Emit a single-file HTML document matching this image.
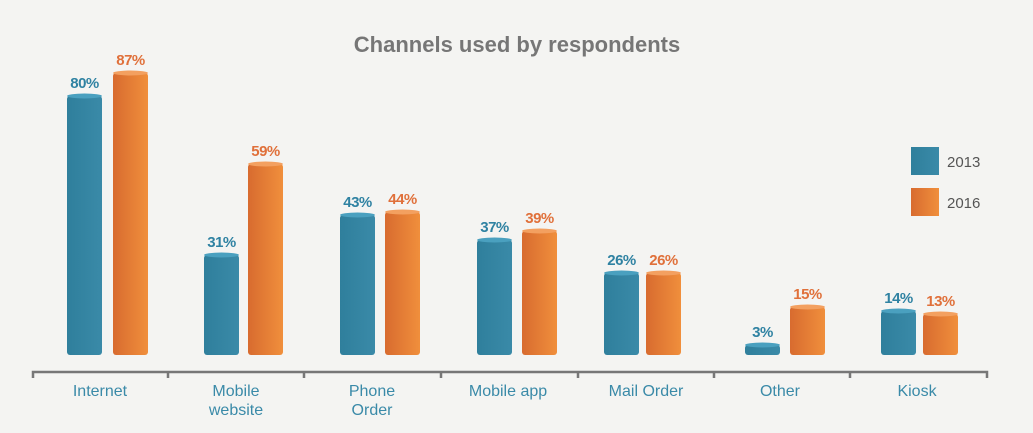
<!DOCTYPE html>
<html><head><style>
body{margin:0;background:#f4f4f2;}
svg{display:block;font-family:"Liberation Sans",sans-serif;}
</style></head><body>
<svg width="1033" height="433" viewBox="0 0 1033 433">
<defs>
<linearGradient id="b" x1="0" x2="1"><stop offset="0" stop-color="#2f7f9c"/><stop offset="1" stop-color="#3a8aa8"/></linearGradient>
<linearGradient id="o" x1="0" x2="1"><stop offset="0" stop-color="#d86b2f"/><stop offset="1" stop-color="#f08f3c"/></linearGradient>
</defs>
<rect width="1033" height="433" fill="#f4f4f2"/>
<text x="517" y="52" text-anchor="middle" font-size="22" font-weight="bold" fill="#767676">Channels used by respondents</text>
<g>
<rect x="67" y="96" width="35" height="259" rx="3" fill="url(#b)"/><ellipse cx="84.5" cy="96" rx="17.5" ry="2.5" fill="#4aa0bf"/>
<rect x="113" y="73" width="35" height="282" rx="3" fill="url(#o)"/><ellipse cx="130.5" cy="73" rx="17.5" ry="2.5" fill="#f3a060"/>
<rect x="204" y="255" width="35" height="100" rx="3" fill="url(#b)"/><ellipse cx="221.5" cy="255" rx="17.5" ry="2.5" fill="#4aa0bf"/>
<rect x="248" y="164" width="35" height="191" rx="3" fill="url(#o)"/><ellipse cx="265.5" cy="164" rx="17.5" ry="2.5" fill="#f3a060"/>
<rect x="340" y="215" width="35" height="140" rx="3" fill="url(#b)"/><ellipse cx="357.5" cy="215" rx="17.5" ry="2.5" fill="#4aa0bf"/>
<rect x="385" y="212" width="35" height="143" rx="3" fill="url(#o)"/><ellipse cx="402.5" cy="212" rx="17.5" ry="2.5" fill="#f3a060"/>
<rect x="477" y="240" width="35" height="115" rx="3" fill="url(#b)"/><ellipse cx="494.5" cy="240" rx="17.5" ry="2.5" fill="#4aa0bf"/>
<rect x="522" y="231" width="35" height="124" rx="3" fill="url(#o)"/><ellipse cx="539.5" cy="231" rx="17.5" ry="2.5" fill="#f3a060"/>
<rect x="604" y="273" width="35" height="82" rx="3" fill="url(#b)"/><ellipse cx="621.5" cy="273" rx="17.5" ry="2.5" fill="#4aa0bf"/>
<rect x="646" y="273" width="35" height="82" rx="3" fill="url(#o)"/><ellipse cx="663.5" cy="273" rx="17.5" ry="2.5" fill="#f3a060"/>
<rect x="745" y="345" width="35" height="10" rx="3" fill="url(#b)"/><ellipse cx="762.5" cy="345" rx="17.5" ry="2.5" fill="#4aa0bf"/>
<rect x="790" y="307" width="35" height="48" rx="3" fill="url(#o)"/><ellipse cx="807.5" cy="307" rx="17.5" ry="2.5" fill="#f3a060"/>
<rect x="881" y="311" width="35" height="44" rx="3" fill="url(#b)"/><ellipse cx="898.5" cy="311" rx="17.5" ry="2.5" fill="#4aa0bf"/>
<rect x="923" y="314" width="35" height="41" rx="3" fill="url(#o)"/><ellipse cx="940.5" cy="314" rx="17.5" ry="2.5" fill="#f3a060"/>
</g>
<g font-size="15" font-weight="bold" text-anchor="middle" letter-spacing="-0.5">
<text x="84.5" y="88" fill="#2f82a2">80%</text>
<text x="130.5" y="65" fill="#e0703a">87%</text>
<text x="221.5" y="247" fill="#2f82a2">31%</text>
<text x="265.5" y="156" fill="#e0703a">59%</text>
<text x="357.5" y="207" fill="#2f82a2">43%</text>
<text x="402.5" y="204" fill="#e0703a">44%</text>
<text x="494.5" y="232" fill="#2f82a2">37%</text>
<text x="539.5" y="223" fill="#e0703a">39%</text>
<text x="621.5" y="265" fill="#2f82a2">26%</text>
<text x="663.5" y="265" fill="#e0703a">26%</text>
<text x="762.5" y="337" fill="#2f82a2">3%</text>
<text x="807.5" y="299" fill="#e0703a">15%</text>
<text x="898.5" y="303" fill="#2f82a2">14%</text>
<text x="940.5" y="306" fill="#e0703a">13%</text>
</g>
<path d="M33 378V372H987V378" stroke="#777" stroke-width="2.5" fill="none"/>
<g stroke="#777" stroke-width="2.5">
<line x1="168" y1="372" x2="168" y2="378"/><line x1="304" y1="372" x2="304" y2="378"/><line x1="441" y1="372" x2="441" y2="378"/><line x1="578" y1="372" x2="578" y2="378"/><line x1="714" y1="372" x2="714" y2="378"/><line x1="850" y1="372" x2="850" y2="378"/>
</g>
<g font-size="16" fill="#3a8aa8" text-anchor="middle">
<text x="100" y="396">Internet</text>
<text x="236" y="396">Mobile</text><text x="236" y="415">website</text>
<text x="372" y="396">Phone</text><text x="372" y="415">Order</text>
<text x="508" y="396">Mobile app</text>
<text x="646" y="396">Mail Order</text>
<text x="780" y="396">Other</text>
<text x="917" y="396">Kiosk</text>
</g>
<rect x="911" y="147" width="28" height="28" fill="url(#b)"/>
<rect x="911" y="188" width="28" height="28" fill="url(#o)"/>
<text x="947" y="167" font-size="15" fill="#555">2013</text>
<text x="947" y="208" font-size="15" fill="#555">2016</text>
</svg>
</body></html>
